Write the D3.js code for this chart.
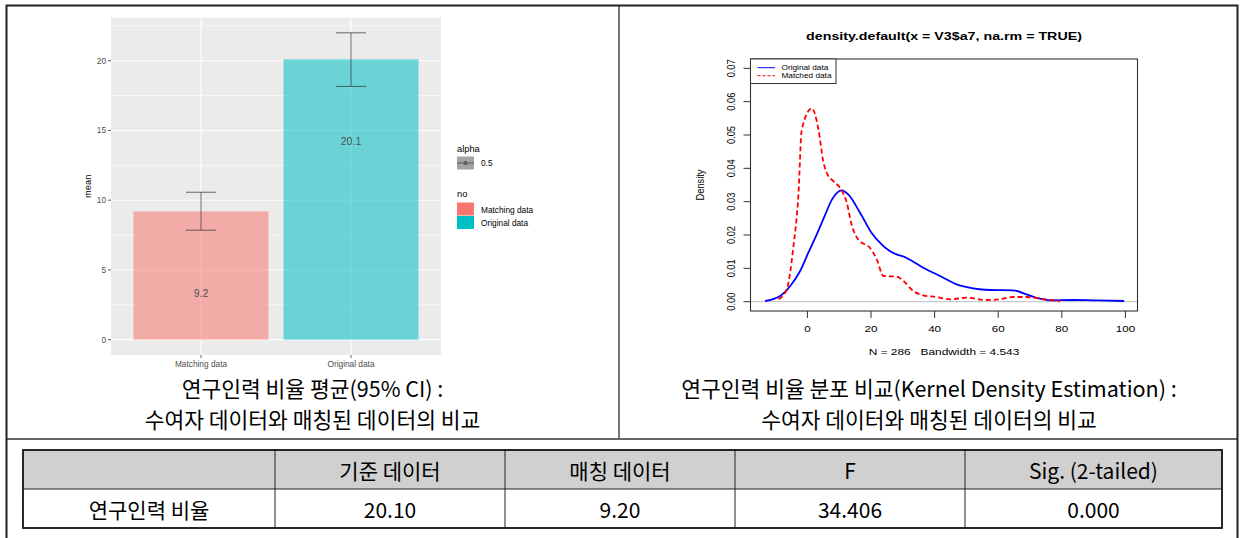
<!DOCTYPE html>
<html><head><meta charset="utf-8">
<script src="https://cdn.jsdelivr.net/npm/d3@7"></script>
<style>body{margin:0;background:#fff} svg{display:block} text{white-space:pre}</style>
</head><body>
<svg id="c" width="1240" height="538"></svg>
<script>
// ---------- data ----------
const barCategories = ["Matching data", "Original data"];
const barMeans = [9.2, 20.1];
const barLower = [7.85, 18.16];
const barUpper = [10.57, 22.0];
const barLabels = ["9.2", "20.1"];
const barYTicks = [0, 5, 10, 15, 20];
const barYMinor = [2.5, 7.5, 12.5, 17.5, 22.5];
const barColors = ["#F8766D", "#00BFC4"];

const origX = [-13.3, -8.6, -5.4, -2.3, 0.3, 2.9, 5.6, 7.7, 10.8, 12.9, 16.6, 20.2, 23.4, 26.0, 31.2, 36.4, 41.7, 46.9, 52.1, 57.4, 64.7, 68.9, 73.1, 76.2, 83.5, 89.8, 99.6];
const origY = [0.0002, 0.0017, 0.0047, 0.0092, 0.0147, 0.0201, 0.0261, 0.0306, 0.0334, 0.0321, 0.0266, 0.0206, 0.0171, 0.0151, 0.0131, 0.0102, 0.0077, 0.0052, 0.0040, 0.0035, 0.0034, 0.0022, 0.0009, 0.0004, 0.0005, 0.0004, 0.0002];
const matchX = [-9.1, -6.5, -4.4, -2.8, -1.8, 1.4, 3.5, 5.0, 6.1, 8.2, 10.3, 12.4, 13.9, 16.0, 19.7, 21.8, 23.9, 28.1, 30.2, 33.3, 36.4, 40.6, 44.8, 50.1, 56.3, 60.5, 64.7, 68.9, 73.1, 79.4];
const matchY = [0.0007, 0.0037, 0.0166, 0.0326, 0.0515, 0.0580, 0.0515, 0.0420, 0.0386, 0.0361, 0.0341, 0.0296, 0.0231, 0.0186, 0.0161, 0.0127, 0.0077, 0.0075, 0.0062, 0.0032, 0.0019, 0.0014, 0.0007, 0.0012, 0.0005, 0.0007, 0.0014, 0.0014, 0.0009, 0.0002];
const densXTicks = [0, 20, 40, 60, 80, 100];
const densYTicks = [0, 0.01, 0.02, 0.03, 0.04, 0.05, 0.06, 0.07];

const captionLeft = ["연구인력 비율 평균(95% CI) :", "수여자 데이터와 매칭된 데이터의 비교"];
const captionRight = ["연구인력 비율 분포 비교(Kernel Density Estimation) :", "수여자 데이터와 매칭된 데이터의 비교"];
const tableHeaders = ["", "기준 데이터", "매칭 데이터", "F", "Sig. (2-tailed)"];
const tableRow = ["연구인력 비율", "20.10", "9.20", "34.406", "0.000"];

// ---------- drawing ----------
const svg = d3.select("#c");
const SANS = "'Liberation Sans', Arial, sans-serif";
const KR = "'Noto Sans CJK KR', sans-serif";

// ===== Left: ggplot bar chart =====
const L = {x0: 111, x1: 441, y0: 17.5, y1: 355};
const lx = d3.scaleLinear().domain([0.4, 2.6]).range([L.x0, L.x1]);
const ly = d3.scaleLinear().domain([-1.1, 23.1]).range([L.y1, L.y0]);
const gl = svg.append("g");
gl.append("rect").attr("x", L.x0).attr("y", L.y0).attr("width", L.x1 - L.x0).attr("height", L.y1 - L.y0).attr("fill", "#EBEBEB");
gl.selectAll(".minor").data(barYMinor).join("line")
  .attr("x1", L.x0).attr("x2", L.x1).attr("y1", d => ly(d)).attr("y2", d => ly(d))
  .attr("stroke", "#fff").attr("stroke-width", 0.6);
gl.selectAll(".major").data(barYTicks).join("line")
  .attr("x1", L.x0).attr("x2", L.x1).attr("y1", d => ly(d)).attr("y2", d => ly(d))
  .attr("stroke", "#fff").attr("stroke-width", 1.1);
gl.selectAll(".vmajor").data(barCategories).join("line")
  .attr("x1", (d, i) => lx(i + 1)).attr("x2", (d, i) => lx(i + 1)).attr("y1", L.y0).attr("y2", L.y1)
  .attr("stroke", "#fff").attr("stroke-width", 1.1);
gl.selectAll(".bar").data(barMeans).join("rect")
  .attr("x", (d, i) => lx(i + 1 - 0.45)).attr("width", lx(1.45) - lx(0.55))
  .attr("y", d => ly(d)).attr("height", d => ly(0) - ly(d))
  .attr("fill", (d, i) => barColors[i]).attr("fill-opacity", 0.55);
barMeans.forEach((m, i) => {
  const c = lx(i + 1), w = lx(1.1) - lx(1);
  const eg = gl.append("g").attr("stroke", "#3a3a3a").attr("stroke-opacity", 0.75).attr("stroke-width", 1);
  eg.append("line").attr("x1", c).attr("x2", c).attr("y1", ly(barUpper[i])).attr("y2", ly(barLower[i]));
  eg.append("line").attr("x1", c - w).attr("x2", c + w).attr("y1", ly(barUpper[i])).attr("y2", ly(barUpper[i]));
  eg.append("line").attr("x1", c - w).attr("x2", c + w).attr("y1", ly(barLower[i])).attr("y2", ly(barLower[i]));
  gl.append("text").attr("x", c).attr("y", ly(m) + 82).attr("text-anchor", "middle").attr("dominant-baseline", "central")
    .attr("font-family", SANS).attr("font-size", 10.5).attr("fill", "#505050").text(barLabels[i]);
});
gl.selectAll(".yt").data(barYTicks).join("line")
  .attr("x1", L.x0 - 3).attr("x2", L.x0).attr("y1", d => ly(d)).attr("y2", d => ly(d)).attr("stroke", "#333").attr("stroke-width", 0.8);
gl.selectAll(".ytl").data(barYTicks).join("text")
  .attr("x", L.x0 - 5).attr("y", d => ly(d)).attr("text-anchor", "end").attr("dominant-baseline", "central")
  .attr("font-family", SANS).attr("font-size", 8.3).attr("fill", "#4D4D4D").text(d => d);
gl.selectAll(".xt").data(barCategories).join("line")
  .attr("x1", (d, i) => lx(i + 1)).attr("x2", (d, i) => lx(i + 1)).attr("y1", L.y1).attr("y2", L.y1 + 3).attr("stroke", "#333").attr("stroke-width", 0.8);
gl.selectAll(".xtl").data(barCategories).join("text")
  .attr("x", (d, i) => lx(i + 1)).attr("y", L.y1 + 9).attr("text-anchor", "middle").attr("dominant-baseline", "central")
  .attr("font-family", SANS).attr("font-size", 8.3).attr("fill", "#4D4D4D").text(d => d);
gl.append("text").attr("transform", `translate(88,${(L.y0 + L.y1) / 2}) rotate(-90)`).attr("text-anchor", "middle").attr("dominant-baseline", "central")
  .attr("font-family", SANS).attr("font-size", 9.3).attr("fill", "#000").text("mean");
const lg = gl.append("g").attr("font-family", SANS).attr("fill", "#000");
lg.append("text").attr("x", 457).attr("y", 148.5).attr("dominant-baseline", "central").attr("font-size", 9.3).text("alpha");
lg.append("rect").attr("x", 457).attr("y", 156.5).attr("width", 17).attr("height", 13).attr("fill", "#A3A3A3");
lg.append("text").attr("x", 465.5).attr("y", 165).attr("text-anchor", "middle").attr("font-size", 7).attr("fill", "#333").text("a");
lg.append("line").attr("x1", 457).attr("x2", 474).attr("y1", 163).attr("y2", 163).attr("stroke", "#444").attr("stroke-width", 0.8);
lg.append("text").attr("x", 481).attr("y", 163.3).attr("dominant-baseline", "central").attr("font-size", 8.3).text("0.5");
lg.append("text").attr("x", 457).attr("y", 193.5).attr("dominant-baseline", "central").attr("font-size", 9.3).text("no");
barCategories.forEach((c, i) => {
  lg.append("rect").attr("x", 457).attr("y", 202.5 + i * 13.5).attr("width", 17).attr("height", 13).attr("fill", barColors[i]);
  lg.append("text").attr("x", 481).attr("y", 209.5 + i * 13.5).attr("dominant-baseline", "central").attr("font-size", 8.3).text(c);
});

// ===== Right: R density plot =====
const R = {x0: 750.5, x1: 1137.5, y0: 59, y1: 311};
const SX = 1.25;
const rx = d3.scaleLinear().domain([-17.9, 103.8]).range([R.x0, R.x1]);
const ry = d3.scaleLinear().domain([-0.0028, 0.0728]).range([R.y1, R.y0]);
const gr = svg.append("g");
function rtext(x, y, txt, size, opts = {}) {
  const t = gr.append("text")
    .attr("transform", `translate(${x},${y}) scale(${SX},1)` + (opts.rot ? " rotate(-90)" : ""))
    .attr("text-anchor", opts.anchor || "middle").attr("dominant-baseline", "central")
    .attr("font-family", SANS).attr("font-size", size).attr("fill", "#000").text(txt);
  if (opts.bold) t.attr("font-weight", "bold");
  return t;
}
gr.append("line").attr("x1", R.x0).attr("x2", R.x1).attr("y1", ry(0)).attr("y2", ry(0)).attr("stroke", "#BEBEBE").attr("stroke-width", 1);
const line = d3.line().x(d => rx(d[0])).y(d => ry(d[1])).curve(d3.curveMonotoneX);
gr.append("path").attr("d", line(origX.map((x, i) => [x, origY[i]]))).attr("fill", "none").attr("stroke", "#0000FF").attr("stroke-width", 1.8);
gr.append("path").attr("d", line(matchX.map((x, i) => [x, matchY[i]]))).attr("fill", "none").attr("stroke", "#FF0000").attr("stroke-width", 1.8).attr("stroke-dasharray", "5,3");
gr.append("rect").attr("x", R.x0).attr("y", R.y0).attr("width", R.x1 - R.x0).attr("height", R.y1 - R.y0).attr("fill", "none").attr("stroke", "#333").attr("stroke-width", 1.1);
gr.selectAll(".rxt").data(densXTicks).join("line")
  .attr("x1", d => rx(d)).attr("x2", d => rx(d)).attr("y1", R.y1).attr("y2", R.y1 + 7).attr("stroke", "#333").attr("stroke-width", 1);
densXTicks.forEach(d => rtext(rx(d), 328, d, 9.3));
gr.selectAll(".ryt").data(densYTicks).join("line")
  .attr("x1", R.x0 - 7).attr("x2", R.x0).attr("y1", d => ry(d)).attr("y2", d => ry(d)).attr("stroke", "#333").attr("stroke-width", 1);
densYTicks.forEach(d => rtext(731, ry(d), d.toFixed(2), 9.3, {rot: true}));
rtext(944, 36.5, "density.default(x = V3$a7, na.rm = TRUE)", 11.4, {bold: true});
rtext(944, 351.5, "N = 286   Bandwidth = 4.543", 9.5);
rtext(700, 185, "Density", 9.3, {rot: true});
gr.append("rect").attr("x", R.x0).attr("y", R.y0).attr("width", 85.5).attr("height", 24.5).attr("fill", "#fff").attr("stroke", "#333").attr("stroke-width", 1);
gr.append("line").attr("x1", 757.5).attr("x2", 775).attr("y1", 67.7).attr("y2", 67.7).attr("stroke", "#0000FF").attr("stroke-width", 1);
gr.append("line").attr("x1", 757.5).attr("x2", 775).attr("y1", 75.7).attr("y2", 75.7).attr("stroke", "#FF0000").attr("stroke-width", 1).attr("stroke-dasharray", "3,2");
rtext(781.5, 67.7, "Original data", 6.6, {anchor: "start"});
rtext(781.5, 75.7, "Matched data", 6.6, {anchor: "start"});

// ===== captions =====
const cap = svg.append("g").attr("font-family", KR).attr("font-size", 21.5).attr("fill", "#000").attr("text-anchor", "middle").attr("dominant-baseline", "central");
captionLeft.forEach((t, i) => cap.append("text").attr("x", 312.5).attr("y", 387 + i * 31).text(t));
captionRight.forEach((t, i) => cap.append("text").attr("x", 929).attr("y", 387 + i * 31).text(t));

// ===== frame =====
const fr = svg.append("g");
fr.append("line").attr("x1", 619).attr("x2", 619).attr("y1", 6).attr("y2", 439).attr("stroke", "#777").attr("stroke-width", 2);
fr.append("line").attr("x1", 7).attr("x2", 1237).attr("y1", 439).attr("y2", 439).attr("stroke", "#666").attr("stroke-width", 2);
fr.append("path").attr("d", "M6.5,538 V5.5 H1237.5 V538").attr("fill", "none").attr("stroke", "#222").attr("stroke-width", 2);

// ===== table =====
const colEdges = [23, 275, 505, 735, 965, 1222];
const T = {y0: 450, ym: 489, y1: 528};
const tg = svg.append("g");
tg.append("rect").attr("x", colEdges[0]).attr("y", T.y0).attr("width", colEdges[5] - colEdges[0]).attr("height", T.ym - T.y0).attr("fill", "#D0D0D0");
tg.append("line").attr("x1", colEdges[0]).attr("x2", colEdges[5]).attr("y1", T.ym).attr("y2", T.ym).attr("stroke", "#222").attr("stroke-width", 1);
tg.selectAll(".cl").data(colEdges.slice(1, 5)).join("line")
  .attr("x1", d => d).attr("x2", d => d).attr("y1", T.y0).attr("y2", T.y1).attr("stroke", "#222").attr("stroke-width", 1);
tg.append("rect").attr("x", colEdges[0]).attr("y", T.y0).attr("width", colEdges[5] - colEdges[0]).attr("height", T.y1 - T.y0).attr("fill", "none").attr("stroke", "#111").attr("stroke-width", 1.8);
const tt = tg.append("g").attr("font-family", KR).attr("font-size", 21).attr("fill", "#000").attr("text-anchor", "middle").attr("dominant-baseline", "central");
tableHeaders.forEach((h, i) => tt.append("text").attr("x", (colEdges[i] + colEdges[i + 1]) / 2).attr("y", (T.y0 + T.ym) / 2).text(h));
tableRow.forEach((h, i) => tt.append("text").attr("x", (colEdges[i] + colEdges[i + 1]) / 2).attr("y", (T.ym + T.y1) / 2).text(h));
</script>
</body></html>
